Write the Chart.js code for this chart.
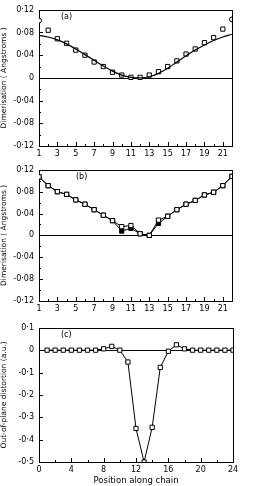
<!DOCTYPE html>
<html><head><meta charset="utf-8">
<script src="https://cdn.jsdelivr.net/npm/chart.js@4/dist/chart.umd.min.js"></script>
<style>
html,body{margin:0;padding:0;background:#fff;}
body{width:265px;height:486px;position:relative;overflow:hidden;}
.p{position:absolute;left:0;width:265px;}
</style></head><body>
<div class="p" style="top:0;height:160px"><canvas id="ca" width="265" height="160"></canvas></div>
<div class="p" style="top:160px;height:158px"><canvas id="cb" width="265" height="158"></canvas></div>
<div class="p" style="top:318px;height:168px"><canvas id="cc" width="265" height="168"></canvas></div>
<script>
// ---- data ----
const positionsAB = [1,2,3,4,5,6,7,8,9,10,11,12,13,14,15,16,17,18,19,20,21,22];
const dimerA_points = [0.101,0.084,0.069,0.061,0.049,0.040,0.028,0.020,0.010,0.005,0.001,0.001,0.005,0.011,0.020,0.030,0.042,0.051,0.062,0.071,0.086,0.103];
const dimerA_fit = [0.075,0.072,0.067,0.060,0.051,0.041,0.031,0.021,0.012,0.005,0.001,0.000,0.002,0.008,0.017,0.028,0.039,0.049,0.058,0.066,0.072,0.077];
const dimerB_filled = [0.107,0.091,0.080,0.075,0.065,0.057,0.047,0.037,0.027,0.008,0.013,0.003,0.000,0.022,0.035,0.047,0.057,0.064,0.074,0.079,0.091,0.108];
const dimerB_open = [0.107,0.091,0.080,0.075,0.065,0.057,0.047,0.037,0.027,0.016,0.018,0.003,0.000,0.028,0.035,0.047,0.057,0.064,0.074,0.079,0.091,0.108];
const positionsC = [1,2,3,4,5,6,7,8,9,10,11,12,13,14,15,16,17,18,19,20,21,22,23,24];
const distortionC = [0,0,0,0,0,0,0,0.006,0.017,0.0,-0.053,-0.350,-0.500,-0.345,-0.077,-0.005,0.024,0.006,0,0,0,0,0,0];
const panelLabels = ['(a)','(b)','(c)'];
const yTitleAB = 'Dimerisation ( Angstroms )';
const yTitleC = 'Out-of-plane distortion (a.u.)';
const xTitleC = 'Position along chain';

const FONT = 'DejaVu Sans';
const fmt = v => {
  const r = Math.round(v*100)/100;
  if (r === 0) return '0';
  return String(r).replace('0.','0·');
};
const pts = (xs, ys) => xs.map((x,i)=>({x, y: ys[i]}));

const framePlugin = {
  id:'frame',
  beforeDatasetsDraw(chart, args, o){
    const {ctx, chartArea:a, scales:{x,y}} = chart;
    ctx.save();
    ctx.strokeStyle = '#000'; ctx.lineWidth = 1;
    ctx.strokeRect(Math.round(a.left)+0.5, Math.round(a.top)+0.5, Math.round(a.right-a.left), Math.round(a.bottom-a.top));
    const y0 = Math.round(y.getPixelForValue(0))+0.5;
    ctx.beginPath(); ctx.moveTo(a.left, y0); ctx.lineTo(a.right, y0); ctx.stroke();
    ctx.beginPath();
    x.ticks.forEach(t=>{
      const px = Math.round(x.getPixelForValue(t.value))+0.5;
      const len = t.label !== '' ? 4 : 2;
      ctx.moveTo(px, a.bottom); ctx.lineTo(px, a.bottom-len);
    });
    y.ticks.forEach(t=>{
      const py = Math.round(y.getPixelForValue(t.value))+0.5;
      const len = t.label !== '' ? 4 : 2;
      ctx.moveTo(a.left, py); ctx.lineTo(a.left+len, py);
    });
    ctx.stroke();
    ctx.fillStyle = '#000';
    ctx.font = '8px ' + FONT;
    ctx.textBaseline = 'middle';
    ctx.fillText(o.label, a.left + o.dx, a.top + 7);
    ctx.restore();
  }
};

function makeChart(id, cfg){
  return new Chart(document.getElementById(id), {
    type:'line',
    data:{datasets: cfg.datasets},
    plugins:[framePlugin],
    options:{
      responsive:false, animation:false,
      layout:{padding:{top:cfg.padTop, right:cfg.padRight, left:0, bottom:0}},
      plugins:{legend:{display:false}, tooltip:{enabled:false}, frame:{label:cfg.label, dx:cfg.labelDx}},
      scales:{
        x:{type:'linear', min:cfg.xmin, max:cfg.xmax,
           grid:{display:false, drawTicks:false, tickLength:0}, border:{display:false},
           afterFit: s => { s.height = cfg.xAxisH; },
           ticks:{stepSize:cfg.xStep, autoSkip:false, maxRotation:0, padding:3, color:'#000',
                  font:{family:FONT, size:8},
                  callback: cfg.xCallback},
           title:{display: !!cfg.xTitle, text: cfg.xTitle || '', color:'#000', font:{family:FONT, size:8.5}, padding:{top:1,bottom:0}}
        },
        y:{type:'linear', min:cfg.ymin, max:cfg.ymax,
           grid:{display:false, drawTicks:false, tickLength:0}, border:{display:false},
           afterFit: s => { s.width = 39; },
           ticks:{stepSize:cfg.yStep, autoSkip:false, padding:5, color:'#000',
                  font:{family:FONT, size:8},
                  callback: cfg.yCallback},
           title:{display:true, text: cfg.yTitle, color:'#000', font:{family:FONT, size:7.5}, padding:{top:0,bottom:0}}
        }
      }
    }
  });
}

const abX = v => (v % 2 === 1 && v < 22) ? String(v) : '';
const abY = v => { const k = Math.round(v*100); return (k % 4 === 0) ? fmt(v) : ''; };

makeChart('ca', {
  label: panelLabels[0], labelDx: 22, padTop: 7, padRight: 33, xAxisH: 14,
  xmin:1, xmax:22, xStep:1, ymin:-0.12, ymax:0.12, yStep:0.02,
  xCallback: abX, yCallback: abY, yTitle: yTitleAB,
  datasets:[
    {data: pts(positionsAB, dimerA_fit), borderColor:'#000', borderWidth:1.2, pointRadius:0, tension:0.4, cubicInterpolationMode:'monotone'},
    {data: pts(positionsAB, dimerA_points), showLine:false, borderColor:'#000', borderWidth:1,
     backgroundColor:'#fff', pointStyle: positionsAB.map((p,i)=> (i===0||i===positionsAB.length-1)?'circle':'rect'),
     pointRadius: positionsAB.map((p,i)=> (i===0||i===positionsAB.length-1)?2.5:3)}
  ]
});

makeChart('cb', {
  label: panelLabels[1], labelDx: 37, padTop: 7, padRight: 33, xAxisH: 17,
  xmin:1, xmax:22, xStep:1, ymin:-0.12, ymax:0.12, yStep:0.02,
  xCallback: abX, yCallback: abY, yTitle: yTitleAB,
  datasets:[
    {data: pts(positionsAB, dimerB_open), borderColor:'#000', borderWidth:1, pointStyle:'rect', pointRadius:3, backgroundColor:'#fff'},
    {data: pts(positionsAB, dimerB_filled), borderColor:'#000', borderWidth:1, pointStyle:'rect', pointRadius:3, backgroundColor:'#000'}
  ]
});

makeChart('cc', {
  label: panelLabels[2], labelDx: 22, padTop: 8, padRight: 32, xAxisH: 24,
  xmin:0, xmax:24, xStep:2, ymin:-0.5, ymax:0.1, yStep:0.1,
  xCallback: v => (v % 4 === 0) ? String(v) : '',
  yCallback: v => { const r = Math.round(v*10)/10; return r===0 ? '0' : String(r).replace('0.','0·'); },
  yTitle: yTitleC, xTitle: xTitleC,
  datasets:[
    {data: pts(positionsC, distortionC), borderColor:'#000', borderWidth:1, pointStyle:'rect', pointRadius:3, backgroundColor:'#fff'}
  ]
});
</script>
</body></html>
